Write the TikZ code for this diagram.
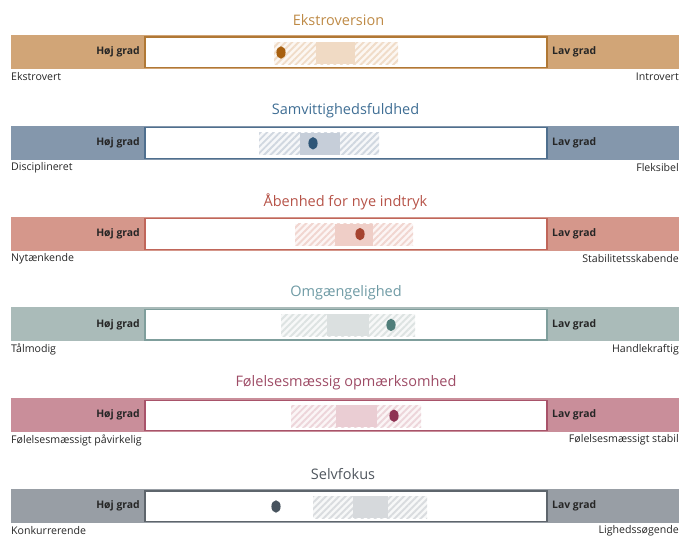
\documentclass[tikz,border=0pt]{standalone}
\usepackage{fontspec}
\setmainfont{Open Sans}
\usetikzlibrary{patterns.meta}

\definecolor{aband}{HTML}{D1A577}\definecolor{aline}{HTML}{B07835}\definecolor{atitle}{HTML}{BE8A46}
\definecolor{adot}{HTML}{A8600F}\definecolor{asolid}{HTML}{F0DAC4}\definecolor{ahatch}{HTML}{F0DCC8}\definecolor{ahbg}{HTML}{FCF7F2}
\definecolor{bband}{HTML}{8497AC}\definecolor{bline}{HTML}{4F6F8E}\definecolor{btitle}{HTML}{3F6E94}
\definecolor{bdot}{HTML}{2F5678}\definecolor{bsolid}{HTML}{C6CED9}\definecolor{bhatch}{HTML}{D0D7E0}\definecolor{bhbg}{HTML}{F6F7F9}
\definecolor{cband}{HTML}{D5978B}\definecolor{cline}{HTML}{C0665A}\definecolor{ctitle}{HTML}{B65348}
\definecolor{cdot}{HTML}{A5432F}\definecolor{csolid}{HTML}{EFCEC7}\definecolor{chatch}{HTML}{F1D6D0}\definecolor{chbg}{HTML}{FCF5F4}
\definecolor{dband}{HTML}{AABBB9}\definecolor{dline}{HTML}{7F9E9C}\definecolor{dtitle}{HTML}{6E9AA4}
\definecolor{ddot}{HTML}{4F7E7A}\definecolor{dsolid}{HTML}{DBE0E0}\definecolor{dhatch}{HTML}{DDE3E2}\definecolor{dhbg}{HTML}{F7F8F8}
\definecolor{eband}{HTML}{C98E9A}\definecolor{eline}{HTML}{A8536A}\definecolor{etitle}{HTML}{9E4C66}
\definecolor{edot}{HTML}{8E3253}\definecolor{esolid}{HTML}{EACDD3}\definecolor{ehatch}{HTML}{EDD5DA}\definecolor{ehbg}{HTML}{FBF5F6}
\definecolor{fband}{HTML}{989EA5}\definecolor{fline}{HTML}{5E656C}\definecolor{ftitle}{HTML}{4F565E}
\definecolor{fdot}{HTML}{47535E}\definecolor{fsolid}{HTML}{D6D9DC}\definecolor{fhatch}{HTML}{D9DCDF}\definecolor{fhbg}{HTML}{F7F8F8}

\tikzset{
  titletext/.style={font=\fontsize{14.5}{17}\selectfont, inner sep=0pt, anchor=center},
  gradtext/.style={font=\bfseries\fontsize{10.4}{12}\selectfont, inner sep=0pt, text=black!85},
  sidetext/.style={font=\fontsize{10.6}{12}\selectfont, inner sep=0pt, text=black!85},
}

\def\segparse#1,#2,#3,#4\relax{\def\sa{#1}\def\sb{#2}\def\sc{#3}\def\sd{#4}}
\def\tx{345}

% #1 prefix, #2 top y, #3 title, #4 left label, #5 right label, #6 segments, #7 dot x
\newcommand\traitrow[7]{%
  \segparse#6\relax
  \fill[#1band] (11,#2) rectangle (679,#2+34);
  \filldraw[fill=white, draw=#1line, line width=1.2pt] (145,#2+2) rectangle (547,#2+32.5);
  \fill[#1hbg] (\sa,#2+7) rectangle (\sd,#2+29);
  \fill[pattern={Lines[angle=45,distance=4.6pt,line width=1.9pt]}, pattern color=#1hatch] (\sa,#2+7) rectangle (\sd,#2+29);
  \fill[#1solid] (\sb,#2+7) rectangle (\sc,#2+29);
  \fill[#1dot] (#7,#2+17.5) ellipse [x radius=4.6, y radius=6.2];
  \node[titletext, text=#1title] (#1t) at (\tx,#2-15) {#3};
  \node[gradtext, anchor=east] (#1h) at (140,#2+17) {Høj grad};
  \node[gradtext, anchor=west] (#1l) at (552,#2+17) {Lav grad};
  \node[sidetext, anchor=west] (#1a) at (11,#2+42) {#4};
  \node[sidetext, anchor=east] (#1b) at (679,#2+42) {#5};
}

\begin{document}
\begin{tikzpicture}[x=1pt,y=-1pt]
\useasboundingbox (0,0) rectangle (679,536);
\def\tx{338.5}
\traitrow{a}{35}{Ekstroversion}{Ekstrovert}{Introvert}{274,316,355,398}{281}
\def\tx{345.5}
\traitrow{b}{125.8}{Samvittighedsfuldhed}{Disciplineret}{Fleksibel}{259,300,340,379}{313}
\traitrow{c}{216.6}{Åbenhed for nye indtryk}{Nytænkende}{Stabilitetsskabende}{295,335,373,413}{360}
\def\tx{346}
\traitrow{d}{307.4}{Omgængelighed}{Tålmodig}{Handlekraftig}{281,327,369,415}{391}
\traitrow{e}{398.2}{Følelsesmæssig opmærksomhed}{Følelsesmæssigt påvirkelig}{Følelsesmæssigt stabil}{291,336,377,421}{394}
\def\tx{343}
\traitrow{f}{489}{Selvfokus}{Konkurrerende}{Lighedssøgende}{313,353,388,427}{276}
\end{tikzpicture}
\end{document}
